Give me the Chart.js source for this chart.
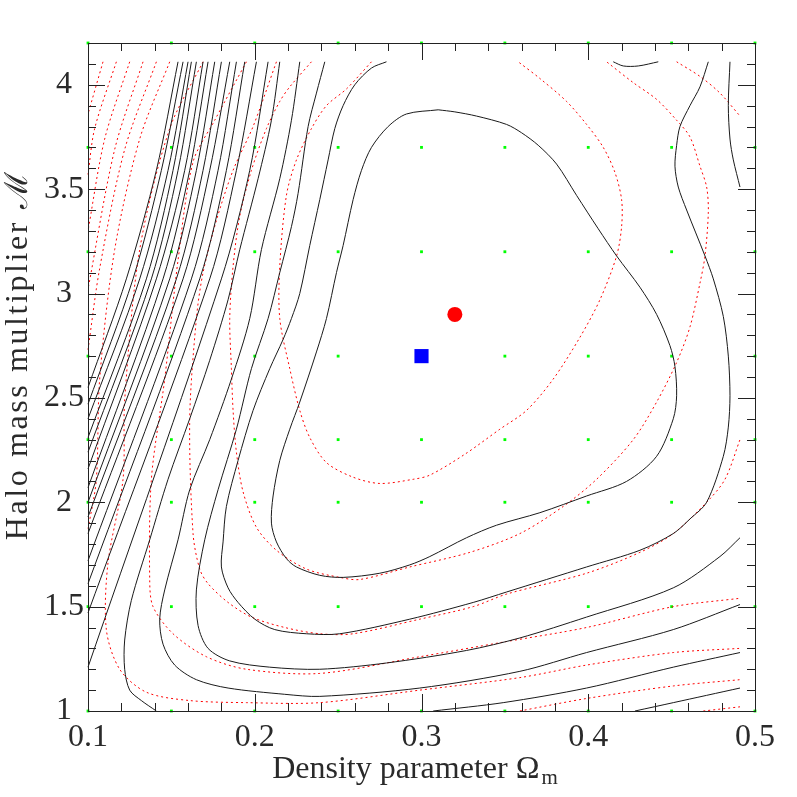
<!DOCTYPE html>
<html>
<head>
<meta charset="utf-8">
<script src="https://cdn.jsdelivr.net/npm/chart.js@4.4.1/dist/chart.umd.min.js"></script>
<style>html,body{margin:0;padding:0;background:#fff}</style>
</head>
<body>
<canvas id="grafico" width="797" height="797"></canvas>
<script>
// tick labels
var xTicks = [0.1, 0.2, 0.3, 0.4, 0.5];
var yTicks = [1, 1.5, 2, 2.5, 3, 3.5, 4];
// sampled model grid (green dots)
var gridX = [0.1, 0.15, 0.2, 0.25, 0.3, 0.35, 0.4, 0.45, 0.5];
var gridY = [1, 1.5, 2, 2.3, 2.7, 3.2, 3.7, 4.2];
// markers
var bestFit = [[0.32, 2.9]];
var fiducial = [[0.3, 2.7]];

// black (solid) contours
var c1 = [[0.310,3.88],[0.320,3.87],[0.333,3.85],[0.351,3.81],[0.360,3.77],[0.370,3.71],[0.381,3.62],[0.393,3.47],[0.406,3.31],[0.417,3.18],[0.431,3.03],[0.441,2.90],[0.449,2.75],[0.452,2.65],[0.453,2.51],[0.451,2.40],[0.441,2.22],[0.423,2.10],[0.399,2.03],[0.371,1.95],[0.345,1.89],[0.327,1.83],[0.305,1.74],[0.293,1.70],[0.275,1.66],[0.253,1.64],[0.239,1.65],[0.225,1.69],[0.219,1.73],[0.213,1.81],[0.210,1.90],[0.211,2.03],[0.215,2.20],[0.221,2.35],[0.227,2.48],[0.237,2.72],[0.243,2.88],[0.249,3.10],[0.253,3.23],[0.259,3.45],[0.264,3.59],[0.270,3.70],[0.280,3.80],[0.291,3.86],[0.310,3.88]];
var c2 = [[0.279,4.11],[0.270,4.08],[0.260,4.00],[0.253,3.90],[0.248,3.79],[0.244,3.64],[0.239,3.45],[0.233,3.23],[0.227,3.00],[0.222,2.88],[0.217,2.78],[0.209,2.64],[0.199,2.44],[0.190,2.20],[0.183,1.98],[0.181,1.81],[0.180,1.69],[0.184,1.59],[0.190,1.52],[0.200,1.44],[0.212,1.39],[0.231,1.37],[0.251,1.37],[0.293,1.44],[0.331,1.52],[0.351,1.57],[0.399,1.69],[0.431,1.77],[0.451,1.85],[0.461,1.92],[0.471,2.00],[0.481,2.22],[0.484,2.36],[0.485,2.51],[0.484,2.70],[0.481,2.89],[0.475,3.07],[0.470,3.18],[0.459,3.40],[0.454,3.51],[0.452,3.61],[0.453,3.71],[0.455,3.80],[0.461,3.90],[0.467,3.99],[0.472,4.11]];
var c3 = [[0.242,4.11],[0.237,3.96],[0.232,3.80],[0.226,3.48],[0.222,3.32],[0.215,3.10],[0.208,2.88],[0.198,2.64],[0.189,2.35],[0.178,2.06],[0.170,1.82],[0.165,1.58],[0.166,1.41],[0.172,1.30],[0.185,1.24],[0.209,1.21],[0.239,1.20],[0.279,1.23],[0.327,1.29],[0.359,1.35],[0.399,1.45],[0.451,1.59],[0.479,1.74],[0.491,1.83]];
var c4 = [[0.227,4.11],[0.222,3.83],[0.215,3.55],[0.204,3.21],[0.197,2.88],[0.186,2.59],[0.173,2.30],[0.161,2.06],[0.154,1.82],[0.146,1.58],[0.143,1.44],[0.145,1.32],[0.152,1.22],[0.165,1.15],[0.184,1.11],[0.218,1.08],[0.239,1.07],[0.299,1.11],[0.359,1.19],[0.399,1.28],[0.451,1.39],[0.491,1.51]];
var c5 = [[0.215,4.11],[0.210,3.83],[0.202,3.55],[0.191,3.21],[0.184,2.97],[0.173,2.68],[0.161,2.40],[0.148,2.11],[0.137,1.82],[0.126,1.53],[0.122,1.34],[0.122,1.20],[0.125,1.10],[0.132,1.05],[0.141,1.00]];
var c5b = [[0.307,1.00],[0.349,1.04],[0.399,1.11],[0.451,1.21],[0.491,1.28]];
var c6b = [[0.428,1.00],[0.451,1.04],[0.491,1.11]];
var topArc = [[0.415,4.11],[0.421,4.09],[0.430,4.09],[0.442,4.11]];
var rightEdge = [[0.485,4.11],[0.484,3.90],[0.485,3.74],[0.487,3.64],[0.491,3.51]];
// steep black contours on the left, each from the top edge to the left edge
var leftFamily = [
  [[0.208,4.11],[0.197,3.59],[0.180,3.07],[0.100,1.21]],
  [[0.201,4.11],[0.189,3.59],[0.173,3.07],[0.100,1.47]],
  [[0.194,4.11],[0.183,3.59],[0.167,3.07],[0.100,1.61]],
  [[0.189,4.11],[0.178,3.59],[0.162,3.07],[0.100,1.72]],
  [[0.185,4.11],[0.173,3.59],[0.157,3.07],[0.100,1.85]],
  [[0.180,4.11],[0.169,3.59],[0.153,3.07],[0.100,1.93]],
  [[0.176,4.11],[0.165,3.59],[0.149,3.07],[0.100,2.00]],
  [[0.172,4.11],[0.161,3.59],[0.145,3.07],[0.100,2.07]],
  [[0.169,4.11],[0.158,3.59],[0.141,3.07],[0.100,2.16]],
  [[0.165,4.11],[0.154,3.59],[0.138,3.07],[0.100,2.24]],
  [[0.162,4.11],[0.151,3.59],[0.135,3.07],[0.100,2.31]],
  [[0.160,4.11],[0.148,3.59],[0.131,3.07],[0.100,2.40]],
  [[0.157,4.11],[0.144,3.59],[0.127,3.07],[0.100,2.47]],
  [[0.154,4.11],[0.141,3.59],[0.123,3.07],[0.100,2.55]]
];

// red (dotted) contours
var r1 = [[0.270,4.11],[0.255,3.98],[0.243,3.90],[0.234,3.79],[0.225,3.64],[0.219,3.47],[0.215,3.13],[0.215,2.88],[0.221,2.64],[0.227,2.44],[0.233,2.31],[0.243,2.19],[0.259,2.12],[0.275,2.09],[0.295,2.11],[0.305,2.13],[0.326,2.23],[0.347,2.35],[0.363,2.44],[0.379,2.59],[0.395,2.79],[0.407,2.97],[0.417,3.18],[0.420,3.32],[0.420,3.45],[0.416,3.58],[0.409,3.70],[0.399,3.81],[0.387,3.92],[0.371,4.03],[0.358,4.11]];
var r2 = [[0.234,4.11],[0.221,3.99],[0.215,3.92],[0.207,3.79],[0.198,3.59],[0.191,3.37],[0.187,3.13],[0.185,2.88],[0.186,2.64],[0.187,2.44],[0.189,2.24],[0.193,2.05],[0.201,1.88],[0.213,1.77],[0.231,1.68],[0.251,1.64],[0.263,1.63],[0.293,1.69],[0.329,1.76],[0.359,1.85],[0.385,1.98],[0.405,2.11],[0.427,2.30],[0.441,2.48],[0.453,2.67],[0.461,2.84],[0.467,3.05],[0.470,3.18],[0.472,3.39],[0.471,3.51],[0.467,3.61],[0.461,3.75],[0.453,3.83],[0.441,3.93],[0.427,4.01],[0.411,4.11]];
var r3 = [[0.213,4.11],[0.199,3.80],[0.187,3.59],[0.177,3.35],[0.169,3.10],[0.165,2.88],[0.161,2.40],[0.163,1.85],[0.167,1.68],[0.172,1.61],[0.184,1.52],[0.198,1.45],[0.218,1.40],[0.239,1.37],[0.259,1.37],[0.299,1.44],[0.331,1.50],[0.351,1.56],[0.399,1.66],[0.431,1.76],[0.451,1.85],[0.471,2.00],[0.482,2.11],[0.491,2.30]];
var r4 = [[0.195,4.11],[0.176,3.83],[0.163,3.63],[0.154,3.16],[0.146,2.59],[0.138,2.11],[0.137,1.63],[0.139,1.50],[0.151,1.37],[0.171,1.26],[0.195,1.20],[0.239,1.18],[0.299,1.26],[0.349,1.33],[0.399,1.40],[0.451,1.50],[0.491,1.54]];
var r5 = [[0.169,4.11],[0.149,3.79],[0.131,3.21],[0.122,2.49],[0.121,2.11],[0.112,1.71],[0.111,1.39],[0.119,1.20],[0.135,1.09],[0.161,1.05],[0.195,1.04],[0.239,1.04],[0.299,1.10],[0.359,1.16],[0.399,1.22],[0.451,1.28],[0.491,1.30]];
var r6 = [[0.149,4.11],[0.131,3.74],[0.116,3.21],[0.107,2.59],[0.105,2.11],[0.100,1.87]];
var r6b = [[0.359,1.00],[0.399,1.06],[0.451,1.12],[0.491,1.15]];
var r7 = [[0.141,4.11],[0.122,3.69],[0.107,3.12],[0.100,2.73]];
var r7b = [[0.469,1.00],[0.491,1.02]];
var r8 = [[0.133,4.11],[0.116,3.69],[0.100,3.02]];
var r9 = [[0.125,4.11],[0.110,3.74],[0.100,3.30]];
var r10 = [[0.117,4.11],[0.104,3.79],[0.100,3.57]];
var r11 = [[0.109,4.11],[0.100,3.86]];
var r12 = [[0.453,4.11],[0.467,4.04],[0.479,3.96],[0.491,3.85]];

function pts(a) { return a.map(function (p) { return {x: p[0], y: p[1]}; }); }

var negras = [c1, c2, c3, c4, c5, c5b, c6b, topArc, rightEdge].concat(leftFamily);
var rojas = [r1, r2, r3, r4, r5, r6, r6b, r7, r7b, r8, r9, r10, r11, r12];

var grid = [];
gridX.forEach(function (gx) { gridY.forEach(function (gy) { grid.push([gx, gy]); }); });

var datasets = [
  {data: pts(bestFit), pointStyle: 'circle', pointRadius: 7.5, backgroundColor: '#ff0000', borderWidth: 0, showLine: false, order: 0},
  {data: pts(fiducial), pointStyle: 'rect', pointRadius: 10, backgroundColor: '#0000ff', borderWidth: 0, showLine: false, order: 0}
];
negras.forEach(function (l) {
  datasets.push({data: pts(l), showLine: true, borderColor: '#1a1a1a', borderWidth: 1, pointRadius: 0, tension: 0.3, fill: false, order: 2});
});
rojas.forEach(function (l) {
  datasets.push({data: pts(l), showLine: true, borderColor: '#ff0000', borderWidth: 1, borderDash: [2, 3], pointRadius: 0, tension: 0.3, fill: false, order: 3});
});
datasets.push({data: pts(grid), pointStyle: 'rect', pointRadius: 2, backgroundColor: '#00ff00', borderWidth: 0, showLine: false, order: 4});

var marco = {
  id: 'marco',
  afterDraw: function (chart) {
    var ctx = chart.ctx, a = chart.chartArea, sx = chart.scales.x, sy = chart.scales.y;
    ctx.save();
    ctx.strokeStyle = '#222';
    ctx.lineWidth = 1;
    ctx.strokeRect(a.left + 0.5, a.top + 0.5, a.right - a.left, a.bottom - a.top);
    ctx.beginPath();
    for (var i = 0; i <= 20; i++) {
      var px = Math.round(sx.getPixelForValue(0.1 + i * 0.02)) + 0.5;
      var len = (i % 5 === 0) ? 17 : 8;
      ctx.moveTo(px, a.bottom); ctx.lineTo(px, a.bottom - len);
      ctx.moveTo(px, a.top); ctx.lineTo(px, a.top + len);
    }
    for (var j = 0; j <= 32; j++) {
      var py = Math.round(sy.getPixelForValue(1 + j * 0.1)) + 0.5;
      var ln = (j % 5 === 0) ? 17 : 8;
      ctx.moveTo(a.left, py); ctx.lineTo(a.left + ln, py);
      ctx.moveTo(a.right, py); ctx.lineTo(a.right - ln, py);
    }
    ctx.stroke();

    ctx.fillStyle = '#2a2a2a';
    ctx.font = '32px "Liberation Serif"';
    ctx.textAlign = 'center';
    ctx.textBaseline = 'middle';
    xTicks.forEach(function (v) { ctx.fillText(String(v), sx.getPixelForValue(v), a.bottom + 27); });
    yTicks.forEach(function (v) { ctx.fillText(String(v), 64, sy.getPixelForValue(v)); });

    // x title with subscript
    ctx.textBaseline = 'alphabetic';
    ctx.textAlign = 'left';
    var main = 'Density parameter \u03A9';
    ctx.font = '32px "Liberation Serif"';
    var w = ctx.measureText(main).width;
    ctx.font = '21px "Liberation Serif"';
    var ws = ctx.measureText('m').width;
    var x0 = 415 - (w + ws + 2) / 2;
    ctx.font = '32px "Liberation Serif"';
    ctx.fillText(main, x0, 778);
    ctx.font = '21px "Liberation Serif"';
    ctx.fillText('m', x0 + w + 2, 784);

    // y title
    ctx.translate(19, 355);
    ctx.rotate(-Math.PI / 2);
    ctx.font = '32px "Liberation Serif"';
    ctx.textAlign = 'center';
    ctx.textBaseline = 'middle';
    ctx.letterSpacing = '2.6px';
    ctx.fillText('Halo mass multiplier \u2133', 0, 0);
    ctx.restore();
  }
};

new Chart(document.getElementById('grafico').getContext('2d'), {
  type: 'scatter',
  data: {datasets: datasets},
  options: {
    responsive: false,
    animation: false,
    clip: false,
    layout: {padding: {left: 88, right: 42, top: 43, bottom: 86}},
    plugins: {legend: {display: false}, tooltip: {enabled: false}},
    scales: {
      x: {type: 'linear', min: 0.1, max: 0.5, display: false},
      y: {type: 'linear', min: 1, max: 4.2, display: false}
    }
  },
  plugins: [marco]
});
</script>
</body>
</html>
